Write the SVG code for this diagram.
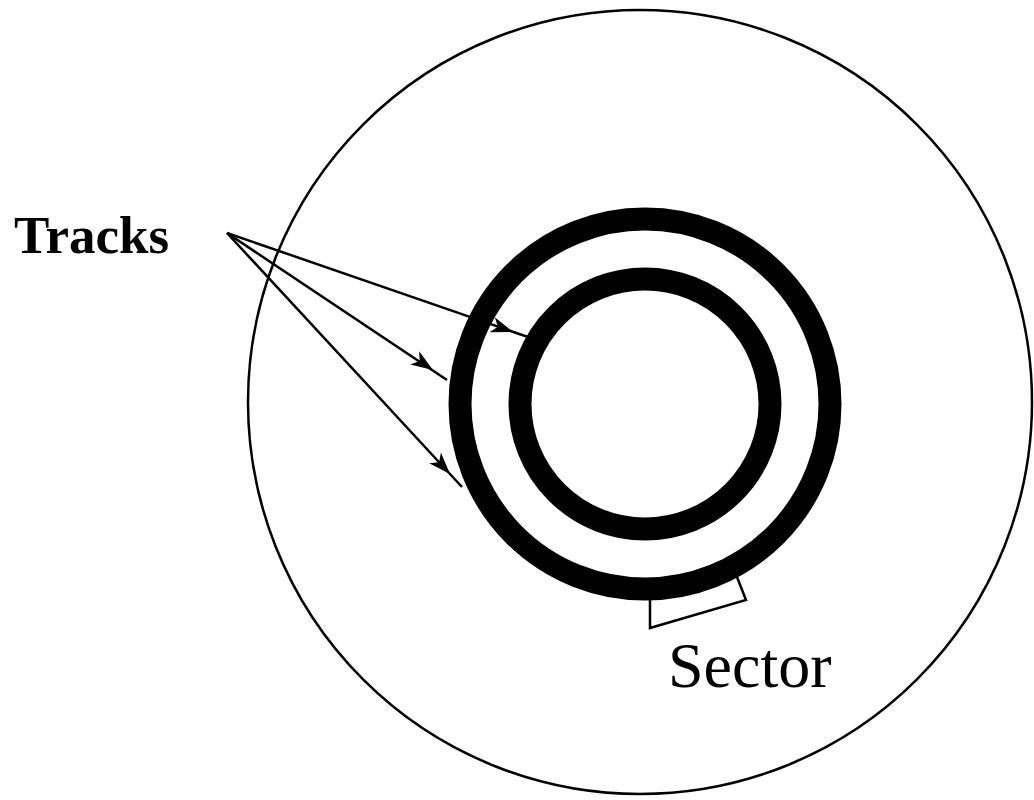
<svg xmlns="http://www.w3.org/2000/svg" width="1034" height="800" viewBox="0 0 1034 800">
<style>
.thin{fill:none;stroke:#000;stroke-width:2.5}
.track{fill:none;stroke:#000;stroke-width:23}
.ln{fill:none;stroke:#000;stroke-width:2.5}
.head{fill:#000;stroke:none}
.lbl{font-family:"Liberation Serif","Times New Roman",serif;fill:#000}
</style>
<defs>
<path id="ah" d="M0,0 L-22,-8 L-16,0 L-22,8 Z"/>
</defs>
<rect width="1034" height="800" fill="#fff"/>
<g id="disk"><circle class="thin" cx="640" cy="402" r="392"/></g>
<g id="track-outer"><circle class="track" cx="645" cy="404" r="185"/></g>
<g id="track-inner"><circle class="track" cx="645" cy="404" r="125"/></g>
<g id="sector"><polyline class="thin" points="650,598 650,628 746,600 737,577"/>
<text class="lbl" x="668" y="687" font-size="64">Sector</text></g>
<g id="tracks-label"><text class="lbl" x="14" y="253" font-size="53" font-weight="bold">Tracks</text></g>
<g id="connectors">
<line class="ln" x1="227" y1="233" x2="528" y2="337"/>
<line class="ln" x1="227" y1="233" x2="447" y2="380"/>
<line class="ln" x1="227" y1="233" x2="462" y2="487"/>
<use href="#ah" class="head" transform="translate(513,332) rotate(19.07)"/>
<use href="#ah" class="head" transform="translate(433,370) rotate(33.75)"/>
<use href="#ah" class="head" transform="translate(450,474) rotate(47.2)"/>
</g>
</svg>
